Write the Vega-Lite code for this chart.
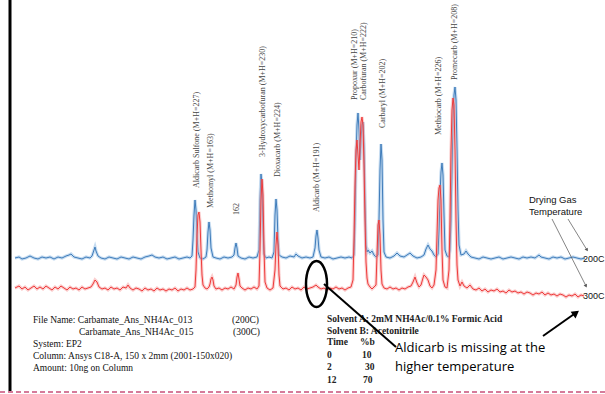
{
  "$schema": "https://vega.github.io/schema/vega-lite/v6.json",
  "width": 605,
  "height": 394,
  "padding": 0,
  "autosize": {"type": "none"},
  "background": "white",
  "config": {"view": {"stroke": null}},
  "datasets": {
    "blue": [
      {"x":15,"y":136},{"x":19,"y":137},{"x":22,"y":135},{"x":26,"y":136},{"x":30,"y":138},{"x":34,"y":136},{"x":38,"y":135},{"x":42,"y":137},{"x":46,"y":136},{"x":50,"y":137},{"x":54,"y":135},{"x":58,"y":137},{"x":62,"y":136},{"x":66,"y":138},{"x":69,"y":139},{"x":71,"y":140},{"x":74,"y":137},{"x":78,"y":136},{"x":82,"y":135},{"x":86,"y":137},{"x":90,"y":136},{"x":92,"y":138},{"x":94,"y":144},{"x":95,"y":147},{"x":96,"y":143},{"x":98,"y":138},{"x":101,"y":136},{"x":105,"y":135},{"x":109,"y":137},{"x":113,"y":136},{"x":117,"y":135},{"x":121,"y":137},{"x":125,"y":136},{"x":129,"y":135},{"x":133,"y":137},{"x":137,"y":136},{"x":141,"y":135},{"x":145,"y":137},{"x":149,"y":138},{"x":152,"y":139},{"x":155,"y":137},{"x":159,"y":136},{"x":163,"y":137},{"x":167,"y":135},{"x":171,"y":136},{"x":175,"y":137},{"x":179,"y":135},{"x":183,"y":136},{"x":187,"y":137},{"x":190,"y":136},{"x":192,"y":138},{"x":193,"y":154},{"x":194,"y":179},{"x":195,"y":194},{"x":196,"y":184},{"x":197,"y":159},{"x":198,"y":142},{"x":200,"y":136},{"x":203,"y":135},{"x":206,"y":137},{"x":207,"y":144},{"x":208,"y":162},{"x":209,"y":172},{"x":210,"y":164},{"x":211,"y":146},{"x":213,"y":137},{"x":216,"y":136},{"x":220,"y":135},{"x":224,"y":137},{"x":228,"y":136},{"x":232,"y":137},{"x":234,"y":139},{"x":235,"y":146},{"x":236,"y":151},{"x":237,"y":146},{"x":238,"y":138},{"x":241,"y":136},{"x":245,"y":135},{"x":249,"y":137},{"x":253,"y":136},{"x":257,"y":137},{"x":259,"y":144},{"x":260,"y":194},{"x":261,"y":220},{"x":262,"y":209},{"x":263,"y":164},{"x":264,"y":140},{"x":266,"y":136},{"x":269,"y":137},{"x":272,"y":136},{"x":274,"y":142},{"x":275,"y":179},{"x":276,"y":195},{"x":277,"y":184},{"x":278,"y":154},{"x":279,"y":139},{"x":282,"y":137},{"x":286,"y":136},{"x":290,"y":138},{"x":294,"y":137},{"x":296,"y":140},{"x":298,"y":138},{"x":302,"y":136},{"x":306,"y":137},{"x":310,"y":136},{"x":313,"y":137},{"x":315,"y":146},{"x":316,"y":158},{"x":317,"y":164},{"x":318,"y":156},{"x":319,"y":144},{"x":321,"y":137},{"x":325,"y":136},{"x":329,"y":137},{"x":333,"y":135},{"x":337,"y":136},{"x":341,"y":137},{"x":345,"y":136},{"x":349,"y":137},{"x":352,"y":136},{"x":354,"y":139},{"x":355,"y":174},{"x":356,"y":234},{"x":357,"y":269},{"x":358,"y":281},{"x":359,"y":264},{"x":360,"y":234},{"x":361,"y":254},{"x":362,"y":269},{"x":363,"y":272},{"x":364,"y":249},{"x":365,"y":194},{"x":366,"y":149},{"x":367,"y":142},{"x":368,"y":144},{"x":370,"y":141},{"x":372,"y":143},{"x":374,"y":139},{"x":376,"y":137},{"x":378,"y":139},{"x":379,"y":174},{"x":380,"y":224},{"x":381,"y":250},{"x":382,"y":234},{"x":383,"y":174},{"x":384,"y":142},{"x":386,"y":137},{"x":390,"y":136},{"x":394,"y":138},{"x":397,"y":141},{"x":400,"y":138},{"x":404,"y":137},{"x":407,"y":139},{"x":410,"y":141},{"x":413,"y":138},{"x":417,"y":136},{"x":421,"y":137},{"x":424,"y":139},{"x":426,"y":145},{"x":428,"y":149},{"x":430,"y":145},{"x":432,"y":143},{"x":434,"y":139},{"x":436,"y":137},{"x":438,"y":140},{"x":439,"y":164},{"x":440,"y":199},{"x":441,"y":222},{"x":442,"y":231},{"x":443,"y":219},{"x":444,"y":179},{"x":445,"y":144},{"x":447,"y":138},{"x":449,"y":137},{"x":450,"y":144},{"x":451,"y":174},{"x":452,"y":224},{"x":453,"y":274},{"x":454,"y":299},{"x":455,"y":307},{"x":456,"y":294},{"x":457,"y":244},{"x":458,"y":184},{"x":459,"y":149},{"x":461,"y":139},{"x":464,"y":140},{"x":466,"y":143},{"x":468,"y":140},{"x":471,"y":137},{"x":475,"y":136},{"x":479,"y":135},{"x":483,"y":137},{"x":487,"y":136},{"x":491,"y":135},{"x":495,"y":136},{"x":499,"y":137},{"x":503,"y":135},{"x":507,"y":136},{"x":511,"y":137},{"x":515,"y":136},{"x":519,"y":135},{"x":523,"y":137},{"x":527,"y":136},{"x":531,"y":137},{"x":535,"y":136},{"x":539,"y":139},{"x":541,"y":137},{"x":545,"y":136},{"x":549,"y":135},{"x":553,"y":137},{"x":557,"y":136},{"x":561,"y":137},{"x":565,"y":135},{"x":569,"y":136},{"x":573,"y":137},{"x":577,"y":136},{"x":581,"y":135},{"x":585,"y":136}
    ],
    "red": [
      {"x":15,"y":106},{"x":19,"y":108},{"x":22,"y":105},{"x":25,"y":107},{"x":28,"y":104},{"x":31,"y":106},{"x":34,"y":108},{"x":37,"y":105},{"x":40,"y":107},{"x":43,"y":105},{"x":46,"y":108},{"x":49,"y":106},{"x":52,"y":104},{"x":55,"y":107},{"x":58,"y":105},{"x":61,"y":108},{"x":64,"y":106},{"x":67,"y":104},{"x":70,"y":107},{"x":73,"y":105},{"x":76,"y":106},{"x":79,"y":104},{"x":82,"y":107},{"x":85,"y":105},{"x":88,"y":106},{"x":91,"y":107},{"x":93,"y":110},{"x":95,"y":114},{"x":97,"y":112},{"x":99,"y":107},{"x":102,"y":105},{"x":105,"y":106},{"x":108,"y":104},{"x":111,"y":107},{"x":114,"y":105},{"x":117,"y":106},{"x":120,"y":104},{"x":123,"y":107},{"x":126,"y":106},{"x":128,"y":109},{"x":130,"y":106},{"x":133,"y":104},{"x":136,"y":106},{"x":139,"y":105},{"x":142,"y":103},{"x":145,"y":106},{"x":148,"y":104},{"x":151,"y":105},{"x":154,"y":103},{"x":157,"y":106},{"x":160,"y":104},{"x":163,"y":105},{"x":166,"y":103},{"x":169,"y":105},{"x":172,"y":104},{"x":175,"y":106},{"x":178,"y":103},{"x":181,"y":105},{"x":184,"y":104},{"x":187,"y":106},{"x":190,"y":104},{"x":193,"y":105},{"x":195,"y":107},{"x":196,"y":124},{"x":197,"y":159},{"x":198,"y":179},{"x":199,"y":182},{"x":200,"y":172},{"x":201,"y":144},{"x":202,"y":119},{"x":203,"y":109},{"x":205,"y":106},{"x":207,"y":105},{"x":209,"y":107},{"x":210,"y":110},{"x":211,"y":115},{"x":212,"y":117},{"x":213,"y":114},{"x":214,"y":108},{"x":216,"y":105},{"x":219,"y":106},{"x":222,"y":104},{"x":225,"y":106},{"x":228,"y":105},{"x":231,"y":107},{"x":234,"y":105},{"x":236,"y":109},{"x":237,"y":117},{"x":238,"y":121},{"x":239,"y":115},{"x":240,"y":108},{"x":242,"y":106},{"x":245,"y":104},{"x":248,"y":106},{"x":251,"y":105},{"x":254,"y":107},{"x":257,"y":105},{"x":259,"y":108},{"x":260,"y":144},{"x":261,"y":194},{"x":262,"y":215},{"x":263,"y":199},{"x":264,"y":144},{"x":265,"y":112},{"x":267,"y":106},{"x":270,"y":104},{"x":273,"y":106},{"x":275,"y":124},{"x":276,"y":149},{"x":277,"y":162},{"x":278,"y":149},{"x":279,"y":119},{"x":280,"y":108},{"x":283,"y":105},{"x":286,"y":106},{"x":289,"y":104},{"x":292,"y":107},{"x":295,"y":105},{"x":298,"y":106},{"x":301,"y":104},{"x":304,"y":107},{"x":307,"y":105},{"x":310,"y":106},{"x":313,"y":107},{"x":316,"y":109},{"x":318,"y":107},{"x":321,"y":105},{"x":324,"y":106},{"x":327,"y":104},{"x":330,"y":106},{"x":333,"y":105},{"x":336,"y":107},{"x":339,"y":105},{"x":342,"y":106},{"x":345,"y":104},{"x":348,"y":106},{"x":351,"y":107},{"x":353,"y":114},{"x":354,"y":154},{"x":355,"y":209},{"x":356,"y":244},{"x":357,"y":254},{"x":358,"y":239},{"x":359,"y":224},{"x":360,"y":249},{"x":361,"y":272},{"x":362,"y":277},{"x":363,"y":269},{"x":364,"y":229},{"x":365,"y":174},{"x":366,"y":132},{"x":367,"y":116},{"x":368,"y":110},{"x":370,"y":107},{"x":372,"y":105},{"x":374,"y":107},{"x":376,"y":109},{"x":377,"y":139},{"x":378,"y":169},{"x":379,"y":174},{"x":380,"y":159},{"x":381,"y":124},{"x":382,"y":110},{"x":384,"y":106},{"x":387,"y":105},{"x":390,"y":107},{"x":393,"y":105},{"x":396,"y":106},{"x":399,"y":104},{"x":402,"y":106},{"x":405,"y":105},{"x":408,"y":107},{"x":411,"y":108},{"x":413,"y":112},{"x":415,"y":117},{"x":417,"y":111},{"x":419,"y":107},{"x":421,"y":109},{"x":423,"y":116},{"x":424,"y":119},{"x":426,"y":117},{"x":428,"y":114},{"x":430,"y":108},{"x":432,"y":106},{"x":434,"y":109},{"x":436,"y":124},{"x":437,"y":159},{"x":438,"y":194},{"x":439,"y":206},{"x":440,"y":209},{"x":441,"y":194},{"x":442,"y":144},{"x":443,"y":114},{"x":445,"y":107},{"x":447,"y":106},{"x":449,"y":124},{"x":450,"y":174},{"x":451,"y":244},{"x":452,"y":284},{"x":453,"y":296},{"x":454,"y":289},{"x":455,"y":244},{"x":456,"y":174},{"x":457,"y":129},{"x":458,"y":114},{"x":460,"y":108},{"x":462,"y":112},{"x":464,"y":108},{"x":467,"y":106},{"x":470,"y":109},{"x":473,"y":105},{"x":476,"y":104},{"x":479,"y":106},{"x":482,"y":103},{"x":485,"y":105},{"x":488,"y":102},{"x":491,"y":104},{"x":494,"y":103},{"x":497,"y":105},{"x":500,"y":102},{"x":503,"y":103},{"x":506,"y":101},{"x":509,"y":104},{"x":512,"y":102},{"x":515,"y":103},{"x":518,"y":101},{"x":521,"y":102},{"x":524,"y":100},{"x":527,"y":102},{"x":530,"y":101},{"x":533,"y":99},{"x":536,"y":101},{"x":539,"y":100},{"x":542,"y":102},{"x":545,"y":99},{"x":548,"y":101},{"x":551,"y":99},{"x":554,"y":100},{"x":557,"y":98},{"x":560,"y":100},{"x":563,"y":99},{"x":566,"y":97},{"x":569,"y":99},{"x":572,"y":98},{"x":575,"y":100},{"x":578,"y":97},{"x":581,"y":99},{"x":584,"y":98}
    ],
    "peaks": [
      {"x":197,"y":206,"label":"Aldicarb Sulfone (M+H=227)"},
      {"x":211,"y":186,"label":"Methomyl (M+H=163)"},
      {"x":237,"y":179,"label":"162"},
      {"x":263,"y":237,"label":"3-Hydroxycarbofuran (M+H=230)"},
      {"x":278,"y":217,"label":"Dioxacarb (M+H=224)"},
      {"x":317,"y":182,"label":"Aldicarb (M+H=191)"},
      {"x":355,"y":294,"label":"Propoxur (M+H=210)"},
      {"x":364,"y":294,"label":"Carbofuran (M+H=222)"},
      {"x":383,"y":266,"label":"Carbaryl (M+H=202)"},
      {"x":439,"y":259,"label":"Methiocarb (M+H=226)"},
      {"x":455,"y":314,"label":"Promecarb (M+H=208)"}
    ],
    "fileinfo": [
      {"x":33,"y":74,"text":"File Name: Carbamate_Ans_NH4Ac_013"},
      {"x":232,"y":74,"text":"(200C)"},
      {"x":79,"y":62,"text":"Carbamate_Ans_NH4Ac_015"},
      {"x":233,"y":62,"text":"(300C)"},
      {"x":33,"y":50,"text":"System: EP2"},
      {"x":33,"y":38,"text":"Column: Ansys C18-A, 150 x 2mm (2001-150x020)"},
      {"x":33,"y":26,"text":"Amount: 10ng on Column"}
    ],
    "solvent": [
      {"x":327,"y":75,"text":"Solvent A: 2mM NH4Ac/0.1% Formic Acid"},
      {"x":327,"y":63,"text":"Solvent B: Acetonitrile"},
      {"x":327,"y":52,"text":"Time"},
      {"x":360,"y":52,"text":"%b"},
      {"x":327,"y":39,"text":"0"},
      {"x":362,"y":39,"text":"10"},
      {"x":327,"y":27,"text":"2"},
      {"x":365,"y":27,"text":"30"},
      {"x":327,"y":14,"text":"12"},
      {"x":363,"y":14,"text":"70"}
    ],
    "note": [
      {"x":395,"y":46,"text":"Aldicarb is missing at the"},
      {"x":395,"y":27,"text":"higher temperature"}
    ],
    "gas": [
      {"x":529,"y":194,"text":"Drying Gas"},
      {"x":529,"y":182,"text":"Temperature"}
    ],
    "temps": [
      {"x":583,"y":135,"text":"200C"},
      {"x":583,"y":98,"text":"300C"}
    ],
    "blackLines": [
      {"x":324,"y":110,"x2":396,"y2":47},
      {"x":543,"y":58,"x2":577,"y2":82}
    ],
    "grayLines": [
      {"x":568,"y":175,"x2":587,"y2":144},
      {"x":552,"y":175,"x2":586,"y2":108}
    ]
  },
  "encoding": {
    "x": {"field": "x", "type": "quantitative", "scale": {"domain": [0, 605], "nice": false, "zero": false}, "axis": null},
    "y": {"field": "y", "type": "quantitative", "scale": {"domain": [0, 394], "nice": false, "zero": false}, "axis": null}
  },
  "layer": [
    {"data": {"name": "blue"}, "mark": {"type": "line", "color": "#8db9e3", "strokeWidth": 3.2, "opacity": 0.5}},
    {"data": {"name": "blue"}, "mark": {"type": "line", "color": "#3f7cba", "strokeWidth": 1}},
    {"data": {"name": "red"}, "mark": {"type": "line", "color": "#f7a0a0", "strokeWidth": 3.2, "opacity": 0.5}},
    {"data": {"name": "red"}, "mark": {"type": "line", "color": "#ee3b3b", "strokeWidth": 1}},
    {"data": {"name": "peaks"}, "mark": {"type": "text", "angle": 270, "align": "left", "baseline": "middle", "font": "Liberation Serif", "fontSize": 8, "color": "#444"}, "encoding": {"text": {"field": "label"}}},
    {"data": {"name": "fileinfo"}, "mark": {"type": "text", "align": "left", "baseline": "middle", "font": "Liberation Serif", "fontSize": 9.5, "color": "#111"}, "encoding": {"text": {"field": "text"}}},
    {"data": {"name": "solvent"}, "mark": {"type": "text", "align": "left", "baseline": "middle", "font": "Liberation Serif", "fontSize": 9.5, "fontWeight": "bold", "color": "#222"}, "encoding": {"text": {"field": "text"}}},
    {"data": {"name": "blackLines"}, "mark": {"type": "rule", "color": "black", "strokeWidth": 2}, "encoding": {"x2": {"field": "x2"}, "y2": {"field": "y2"}}},
    {"data": {"values": [{"x": 576, "y": 81}]}, "mark": {"type": "point", "shape": "triangle-up", "angle": 54, "filled": true, "size": 70, "color": "black", "opacity": 1}},
    {"data": {"values": [{"x": 316.5, "y": 110}]}, "mark": {"type": "point", "shape": "M -0.457 0 A 0.457 1 0 1 0 0.457 0 A 0.457 1 0 1 0 -0.457 0 Z", "size": 2116, "filled": false, "color": "black", "strokeWidth": 2.5, "opacity": 1}},
    {"data": {"name": "note"}, "mark": {"type": "text", "align": "left", "baseline": "middle", "font": "Open Sans", "fontSize": 13, "color": "black"}, "encoding": {"text": {"field": "text"}}},
    {"data": {"name": "grayLines"}, "mark": {"type": "rule", "color": "#666", "strokeWidth": 0.8}, "encoding": {"x2": {"field": "x2"}, "y2": {"field": "y2"}}},
    {"data": {"values": [{"x": 587, "y": 144}]}, "mark": {"type": "point", "shape": "triangle-up", "angle": 148, "filled": true, "size": 14, "color": "#555", "opacity": 1}},
    {"data": {"values": [{"x": 586, "y": 108}]}, "mark": {"type": "point", "shape": "triangle-up", "angle": 153, "filled": true, "size": 14, "color": "#555", "opacity": 1}},
    {"data": {"name": "gas"}, "mark": {"type": "text", "align": "left", "baseline": "middle", "font": "Liberation Sans", "fontSize": 9.5, "color": "#111"}, "encoding": {"text": {"field": "text"}}},
    {"data": {"name": "temps"}, "mark": {"type": "text", "align": "left", "baseline": "middle", "font": "Liberation Sans", "fontSize": 9, "color": "#111"}, "encoding": {"text": {"field": "text"}}},
    {"data": {"values": [{"x": 10, "y": 394, "y2": 3}]}, "mark": {"type": "rule", "color": "black", "strokeWidth": 3}, "encoding": {"y2": {"field": "y2"}}},
    {"data": {"values": [{"x": 0, "x2": 605, "y": 2}]}, "mark": {"type": "rule", "color": "#c8507a", "strokeWidth": 1.5, "strokeDash": [5, 3]}, "encoding": {"x2": {"field": "x2"}}}
  ]
}
